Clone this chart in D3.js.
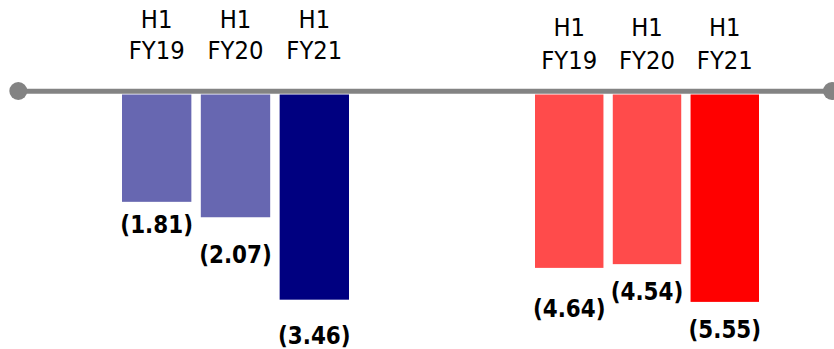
<!DOCTYPE html>
<html>
<head>
<meta charset="utf-8">
<script src="https://cdn.jsdelivr.net/npm/d3@7"></script>
<style>
  html, body { margin: 0; padding: 0; background: #fff; }
  svg { display: block; }
</style>
</head>
<body>
<svg id="chart" width="834" height="349"></svg>
<script>
// Period labels (two lines each) shared by both groups
const periodTop = ["H1", "H1", "H1"];
const periodBottom = ["FY19", "FY20", "FY21"];

// Left group (blue) and right group (red) values, shown as negatives in brackets
const blueValues = [1.81, 2.07, 3.46];
const redValues = [4.64, 4.54, 5.55];

// Colours per bar
const blueColors = ["#6767b1", "#6767b1", "#000080"];
const redColors = ["#ff4b4b", "#ff4b4b", "#ff0000"];

const svg = d3.select("#chart");
const zeroY = 94.5;
const fmt = v => "(" + d3.format(".2f")(v) + ")";
const font = "DejaVu Sans, Verdana, sans-serif";

// Each group has its own vertical scale
const yBlue = d3.scaleLinear().domain([0, 4]).range([zeroY, zeroY + 237.2]);
const yRed = d3.scaleLinear().domain([0, 6]).range([zeroY, zeroY + 224.2]);

const xBlue = d3.scaleBand().domain(periodBottom).range([122, 349]).paddingInner(0.12).paddingOuter(0);
const xRed = d3.scaleBand().domain(periodBottom).range([535, 759]).paddingInner(0.12).paddingOuter(0);

// Vertical gap between each bar's end and its value label baseline
const blueLabelGap = [31.5, 45.5, 44];
const redLabelGap = [49, 36, 36];

function drawGroup(values, colors, x, y, gaps, topBase, bottomBase) {
  const g = svg.append("g");
  const rows = values.map((v, i) => ({ v, i, key: periodBottom[i] }));
  const cx = d => x(d.key) + x.bandwidth() / 2;

  g.selectAll("rect").data(rows).join("rect")
    .attr("x", d => x(d.key))
    .attr("y", y(0))
    .attr("width", x.bandwidth())
    .attr("height", d => y(d.v) - y(0))
    .attr("fill", d => colors[d.i]);

  // Value labels: bold, slightly condensed
  g.selectAll("g.val").data(rows).join("g")
    .attr("class", "val")
    .attr("transform", d => `translate(${cx(d)},${y(d.v) + gaps[d.i]}) scale(0.86,1)`)
    .append("text")
    .attr("text-anchor", "middle")
    .attr("font-family", font)
    .attr("font-weight", "bold")
    .attr("font-size", 25)
    .attr("fill", "#000")
    .text(d => fmt(d.v));

  // Two-line period labels above the zero line
  const cat = g.selectAll("g.cat").data(rows).join("g")
    .attr("class", "cat")
    .attr("transform", d => `translate(${cx(d)},0) scale(0.95,1)`)
    .append("text")
    .attr("text-anchor", "middle")
    .attr("font-family", font)
    .attr("font-size", 24)
    .attr("fill", "#000");
  cat.append("tspan")
    .attr("x", 0)
    .attr("y", topBase)
    .text(d => periodTop[d.i]);
  cat.append("tspan")
    .attr("x", 0)
    .attr("y", bottomBase)
    .text(d => periodBottom[d.i]);
}

drawGroup(blueValues, blueColors, xBlue, yBlue, blueLabelGap, 28, 59.5);
drawGroup(redValues, redColors, xRed, yRed, redLabelGap, 36.5, 69);

// Zero line with round end markers
const axis = svg.append("g");
axis.append("line")
  .attr("x1", 18).attr("x2", 832)
  .attr("y1", 91.2).attr("y2", 91.2)
  .attr("stroke", "#838383")
  .attr("stroke-width", 5);
axis.selectAll("circle").data([18.3, 832]).join("circle")
  .attr("cx", d => d).attr("cy", 91)
  .attr("r", 9)
  .attr("fill", "#838383");
</script>
</body>
</html>
